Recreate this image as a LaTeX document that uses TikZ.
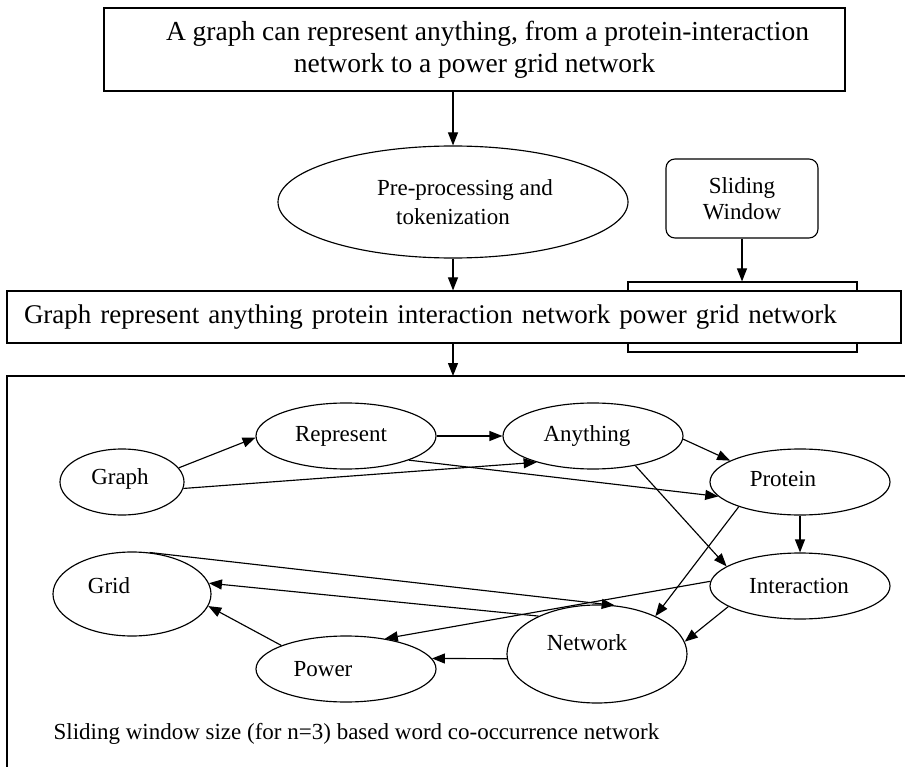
\documentclass[tikz,border=0pt]{standalone}
\usepackage{fontspec}
\setmainfont{Liberation Serif}
\usetikzlibrary{arrows.meta,shapes.geometric}

\begin{document}
\begin{tikzpicture}[x=1pt,y=-1pt,
  line width=1.15pt,
  arr/.style={-{Triangle[length=13pt,width=10pt]}},
  big/.style={font=\fontsize{27}{32}\selectfont},
  mid/.style={font=\fontsize{23}{27}\selectfont},
  word/.style={ellipse,draw,inner sep=0pt,minimum width=180pt,minimum height=66pt},
  lbl/.style={mid,inner sep=0pt}]

\useasboundingbox (0,0) rectangle (905,767);

% --- text processing pipeline ---
\node[draw,font=\fontsize{27.5}{32}\selectfont,minimum width=741pt,minimum height=83pt,inner sep=0pt,align=center]
  (top) at (474.5,49.5) {\hspace*{26pt}A graph can represent anything, from a protein-interaction\\network to a power grid network};

\node[ellipse,draw,minimum width=350pt,minimum height=112pt,inner sep=0pt,align=center,
  font=\fontsize{23}{29}\selectfont]
  (prep) at (453,202) {\hspace*{24pt}Pre-processing and\\tokenization};

\node[draw,rounded corners=9pt,minimum width=152pt,minimum height=79pt,inner sep=0pt,align=center,
  font=\fontsize{23}{26}\selectfont]
  (slide) at (742,198.5) {Sliding\\Window};

\node[draw,fill=white,minimum width=229pt,minimum height=70pt,inner sep=0pt]
  (win) at (742.5,317) {};
\node[draw,fill=white,big,minimum height=52pt,inner xsep=17pt,inner ysep=0pt,text width=860pt,align=left]
  (row) at (454,317) {Graph represent anything protein interaction network power grid network};

\coordinate (frameTL) at (7,376);
\draw (7,767) -- (frameTL) -- (905,376);

\draw[arr] (prep.north |- top.south) -- (prep.north);
\draw[arr] (prep.south) -- (prep.south |- row.north);
\draw[arr] (slide.south) -- (slide.south |- win.north);
\draw[arr] (prep.south |- row.south) -- (prep.south |- frameTL);

% --- word co-occurrence network ---
\node[word,minimum width=124pt] (graph) at (122,482) {};
\node[lbl] at (graph.center) [xshift=-2pt,yshift=3pt] (tgraph) {Graph};
\node[word] (repr) at (346,436) {};
\node[lbl] at (repr.center) [xshift=-5pt] (trepr) {Represent};
\node[word] (any) at (593,436) {};
\node[lbl] at (any.center) [xshift=-6pt] (tany) {Anything};
\node[word] (prot) at (800,482) {};
\node[lbl] at (prot.center) [xshift=-17pt,yshift=3pt] (tprot) {Protein};
\node[word] (inter) at (800,586) {};
\node[lbl] at (inter.center) [xshift=-1pt] (tinter) {Interaction};
\node[word,minimum height=98pt] (net) at (597,654) {};
\node[lbl] at (net.center) [xshift=-10pt,yshift=11pt] (tnet) {Network};
\node[word] (power) at (346,669) {};
\node[lbl] at (power.center) [xshift=-23pt] (tpower) {Power};
\node[word,minimum width=158pt,minimum height=84pt] (grid) at (132,594) {};
\node[lbl] at (grid.center) [xshift=-23pt,yshift=8pt] (tgrid) {Grid};

\draw[arr] (graph.14) -- (repr.181);
\draw[arr] (graph.-6) -- (any.205);
\draw[arr] (repr.east) -- (any.west);
\draw[arr] (repr.-21) -- (prot.190);
\draw[arr] (any.-2) -- (prot.163);
\draw[arr] (any.-35) -- (inter.165);
\draw[arr] (prot.south) -- (inter.north);
\draw[arr] (prot.202) -- (net.33);
\draw[arr] (inter.196) -- (net.8);
\draw[arr] (inter.177) -- (power.38);
\draw[arr] (grid.67) -- (net.70);
\draw[arr] (net.147) -- (grid.8);
\draw[arr] (power.160) -- (grid.-9);
\draw[arr] (net.183) -- (power.7);

\node[mid,anchor=west,inner sep=0pt] (caption) at (53,734)
  {Sliding window size (for n=3) based word co-occurrence network};
\end{tikzpicture}
\end{document}
